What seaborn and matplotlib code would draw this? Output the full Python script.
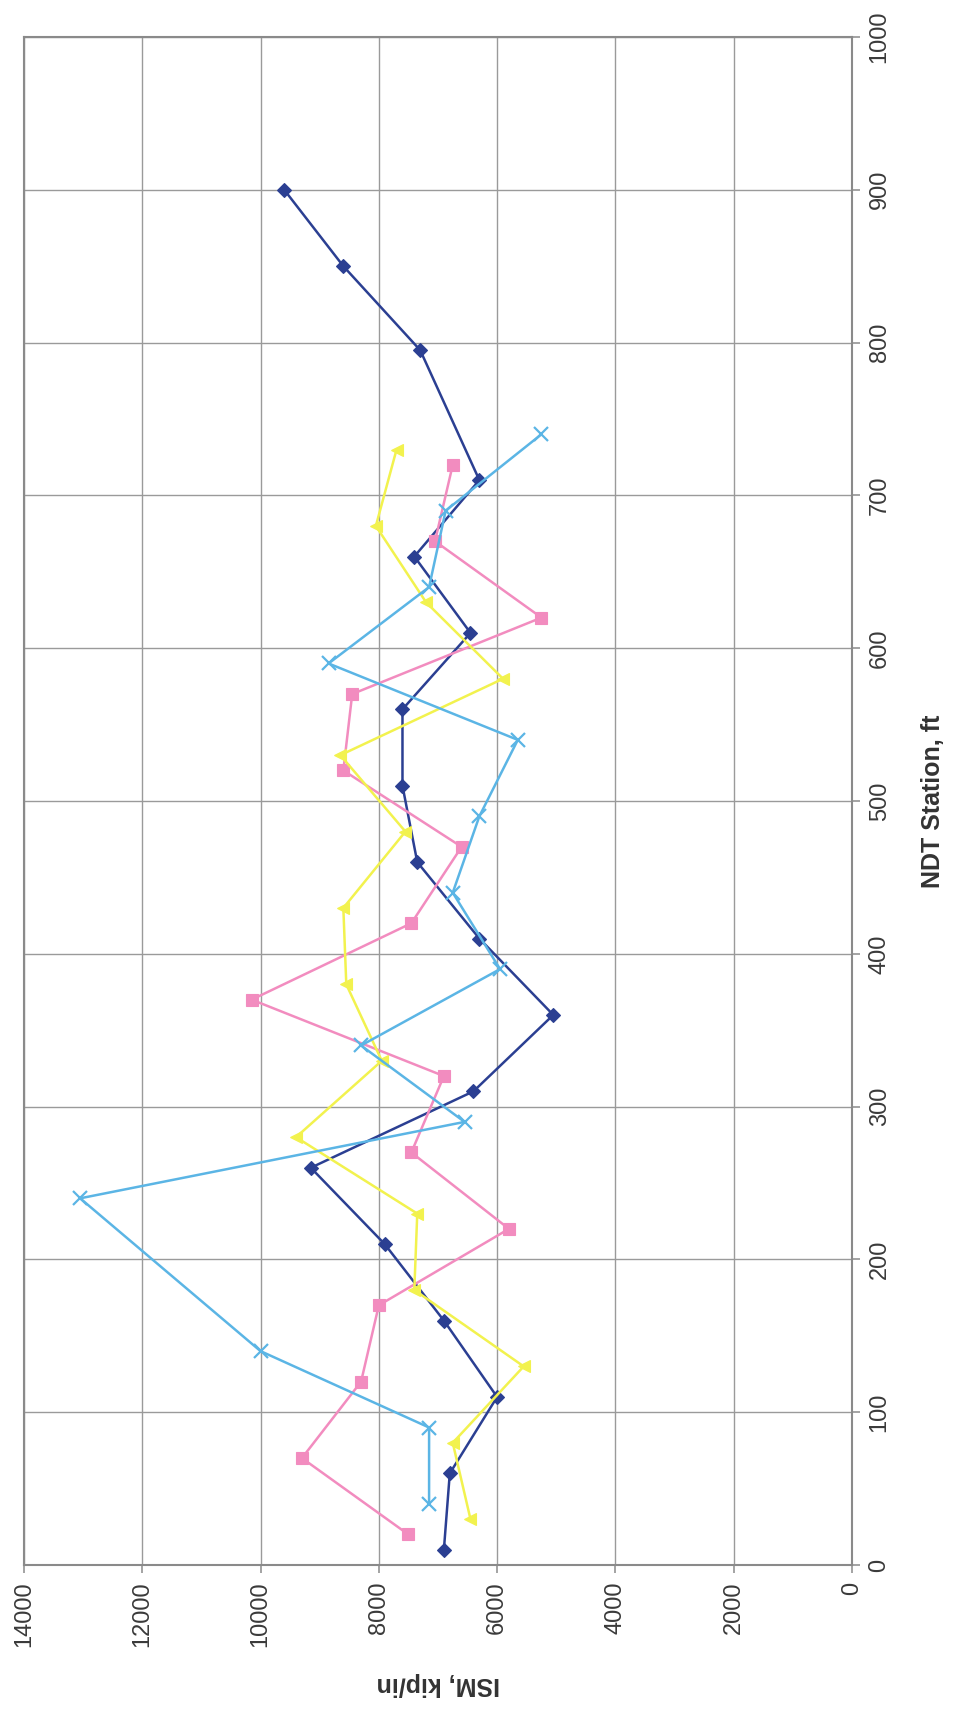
import numpy as np
import pandas as pd
import matplotlib
matplotlib.use("Agg")
import matplotlib.pyplot as plt
import seaborn as sns

# Stations (ft) and stiffness modulus (kip/in) for the four test lines
station_a = [10, 60, 110, 160, 210, 260, 310, 360, 410, 460, 510, 560, 610, 660, 710, 795, 850, 900]
ism_a = [6900, 6800, 6000, 6900, 7900, 9150, 6400, 5050, 6300, 7350, 7600, 7600, 6450, 7400, 6300, 7300, 8600, 9600]

station_b = [20, 70, 120, 170, 220, 270, 320, 370, 420, 470, 520, 570, 620, 670, 720]
ism_b = [7500, 9300, 8300, 8000, 5800, 7450, 6900, 10150, 7450, 6600, 8600, 8450, 5250, 7050, 6750]

station_c = [30, 80, 130, 180, 230, 280, 330, 380, 430, 480, 530, 580, 630, 680, 730]
ism_c = [6450, 6750, 5550, 7400, 7350, 9400, 7950, 8550, 8600, 7550, 8650, 5900, 7200, 8050, 7700]

station_d = [40, 90, 140, 240, 290, 340, 390, 440, 490, 540, 590, 640, 690, 740]
ism_d = [7150, 7150, 10000, 13050, 6550, 8300, 5950, 6750, 6300, 5650, 8850, 7150, 6870, 5250]

series = [
    (station_a, ism_a, "#2B3F92", "D", 7.5),
    (station_b, ism_b, "#F28CBF", "s", 8.5),
    (station_c, ism_c, "#F2F24E", "<", 9),
    (station_d, ism_d, "#5BB5E5", "x", 10),
]

ism_ticks = list(range(0, 14001, 2000))
station_ticks = list(range(0, 1001, 100))

sns.set_theme(style="white")
plt.rcParams["font.family"] = ["Liberation Sans", "DejaVu Sans"]

fig, ax = plt.subplots(figsize=(9.55, 17.11), dpi=100)
fig.subplots_adjust(left=0.0251, right=0.8921, top=0.9784, bottom=0.0853)

for st, ism, col, mk, ms in series:
    df = pd.DataFrame({"ISM": ism, "Station": st})
    sns.lineplot(data=df, x="ISM", y="Station", estimator=None, sort=False,
                 color=col, marker=mk, markersize=ms, linewidth=1.8,
                 markeredgecolor=col, markerfacecolor=col,
                 markeredgewidth=1.6 if mk == "x" else 0.8, ax=ax, zorder=3)

ax.set_xlim(14000, 0)
ax.set_ylim(0, 1000)
ax.set_xticks(ism_ticks)
ax.set_yticks(station_ticks)
ax.set_xticklabels([str(v) for v in ism_ticks], rotation=90)
ax.yaxis.tick_right()
ax.yaxis.set_label_position("right")
ax.set_yticklabels([str(v) for v in station_ticks], rotation=90, va="center")

ax.grid(True, color="#9a9a9a", linewidth=1.0)
for sp in ax.spines.values():
    sp.set_color("#8a8a8a")
    sp.set_linewidth(1.5)
ax.tick_params(axis="both", which="major", direction="out", length=6, width=1.1,
               color="#8a8a8a", labelsize=17, labelcolor="#3a3a3a", pad=6,
               bottom=True, right=True, left=False)

ax.set_xlabel("ISM, kip/in", fontsize=18, fontweight="bold", rotation=180,
              color="#333333", labelpad=18)
ax.set_ylabel("NDT Station, ft", fontsize=18, fontweight="bold", rotation=90,
              color="#333333", labelpad=22)

fig.savefig("out.png", dpi=100, facecolor="white")
